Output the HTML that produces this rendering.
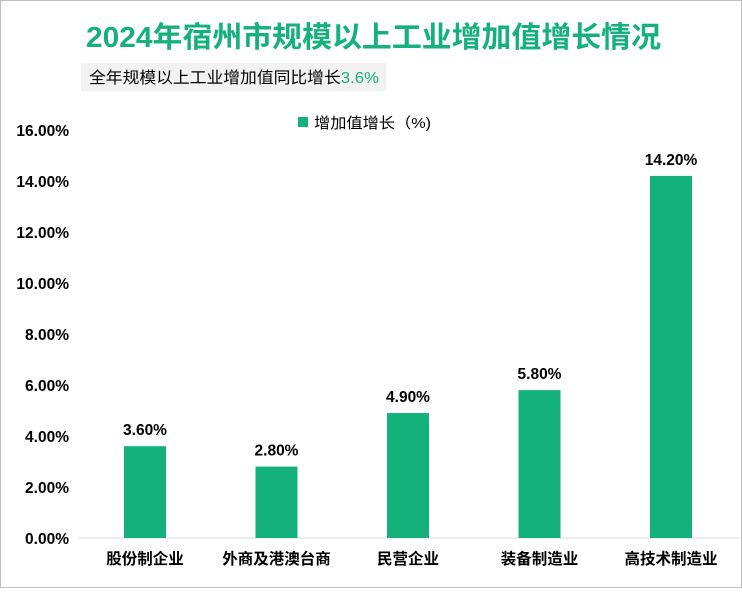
<!DOCTYPE html>
<html><head><meta charset="utf-8"><style>
body{margin:0;width:742px;height:588px;background:#fff;font-family:"Liberation Sans","Noto Sans CJK SC",sans-serif;overflow:hidden}
#wrap{position:absolute;left:0;top:0;width:740px;height:586px;border:1px solid #bfbfbf}
</style></head><body>
<div id="wrap">
<svg width="742" height="588" id="svg">
<text x="85" y="46" textLength="575" lengthAdjust="spacingAndGlyphs" font-size="29" font-weight="bold" fill="#14b17d">2024年宿州市规模以上工业增加值增长情况</text>
<rect x="80" y="62" width="305" height="28" fill="#f2f2f2"/>
<text x="88" y="82" textLength="290" lengthAdjust="spacingAndGlyphs" font-size="16" fill="#000">全年规模以上工业增加值同比增长<tspan fill="#14b17d">3.6%</tspan></text>
<rect x="297" y="116" width="10" height="10" fill="#14b17d"/>
<text x="313" y="127" textLength="117" lengthAdjust="spacingAndGlyphs" font-size="15" fill="#000">增加值增长（%)</text>
<g id="axis"></g><g id="bars"></g>
</svg></div>
<script>
const categories=["股份制企业","外商及港澳台商","民营企业","装备制造业","高技术制造业"];
const values=[3.6,2.8,4.9,5.8,14.2];
const ticks=[0,2,4,6,8,10,12,14,16];
const y=v=>537-v*(537-129)/16;
const x=i=>144+i*131.5;
const ns="http://www.w3.org/2000/svg";
const ax=document.getElementById('axis'),bg=document.getElementById('bars');
function mk(t,a,p){const e=document.createElementNS(ns,t);for(const k in a)e.setAttribute(k,a[k]);p.appendChild(e);return e;}
ticks.forEach(t=>{const e=mk('text',{x:68,y:y(t)+6,'text-anchor':'end','font-size':15.5,'font-weight':'bold',fill:'#000'},ax);e.textContent=t.toFixed(2)+'%';

});
const base=mk('line',{x1:78,x2:738,y1:537,y2:537,stroke:'#d9d9d9'},ax);


values.forEach((v,i)=>{const r=mk('rect',{x:x(i)-21,y:y(v),width:42,height:537-y(v),fill:'#14b17d'},bg);


const l=mk('text',{x:x(i),y:y(v)-11,'text-anchor':'middle','font-size':15.5,'font-weight':'bold',fill:'#000'},bg);l.textContent=v.toFixed(2)+'%';


const c=mk('text',{x:x(i),y:563,'text-anchor':'middle','font-size':15.5,'font-weight':'bold',fill:'#000'},bg);c.textContent=categories[i];

});
</script>
</body></html>
